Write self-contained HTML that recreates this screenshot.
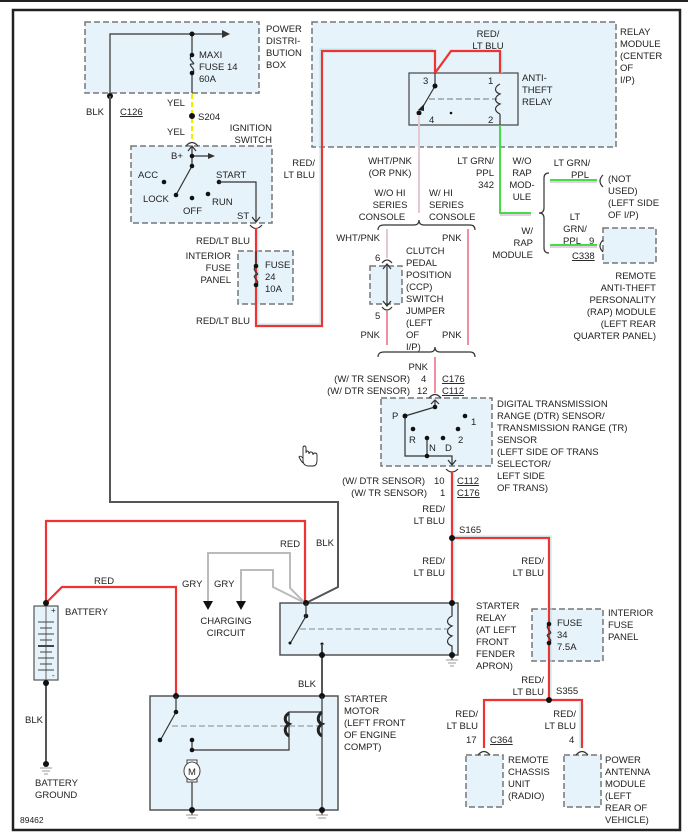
<!DOCTYPE html>
<html><head><meta charset="utf-8"><style>
body{margin:0;background:#fff}
svg{display:block}
text{font-family:"Liberation Sans",sans-serif;font-size:9.5px;fill:#222}
.bx{fill:#e6f3fb;stroke:#777;stroke-width:1.5;stroke-dasharray:6,3}
.w{fill:none;stroke:#333;stroke-width:1.2}
.blk{fill:none;stroke:#555;stroke-width:2}
.red{fill:none;stroke:#e33;stroke-width:2.2}
.cy{fill:none;stroke:#aee;stroke-width:1}
.gry{fill:none;stroke:#bbb;stroke-width:2}
.pnk{fill:none;stroke:#f08fa0;stroke-width:2}
.wp{fill:none;stroke:#e6c9cf;stroke-width:2}
.grn{fill:none;stroke:#4d4;stroke-width:2}
.r{text-anchor:end}.m{text-anchor:middle}
</style></head><body>
<svg width="688" height="837" viewBox="0 0 688 837">
<line x1="0" y1="1" x2="688" y2="1" stroke="#222" stroke-width="2"/>
<rect x="13" y="10" width="667" height="820" fill="none" stroke="#222" stroke-width="2.5"/>

<!-- boxes -->
<rect class="bx" x="85" y="22" width="174" height="71"/>
<rect class="bx" x="312" y="22" width="304" height="125"/>
<rect class="bx" x="131" y="146" width="141" height="77"/>
<rect class="bx" x="238" y="251" width="55" height="53"/>
<rect class="bx" x="370" y="266" width="32" height="38"/>
<rect class="bx" x="603" y="228" width="53" height="35"/>
<rect class="bx" x="381" y="398" width="111" height="68"/>
<rect class="bx" x="532" y="609" width="71" height="52"/>
<rect class="bx" x="466" y="755" width="37" height="52"/>
<rect class="bx" x="564" y="755" width="37" height="52"/>
<rect x="409" y="73" width="109" height="52" fill="#e6f3fb" stroke="#444" stroke-width="1.2"/>
<rect x="280" y="603" width="178" height="52" fill="#e6f3fb" stroke="#555" stroke-width="1.5"/>
<rect x="150" y="696" width="188" height="114" fill="#e6f3fb" stroke="#555" stroke-width="1.5"/>
<rect x="34" y="606" width="24" height="74" fill="#e6f3fb" stroke="#555" stroke-width="1.2"/>

<!-- PDB -->
<polyline class="w" points="110,96 110,34 224,34"/><path d="M222,30 L230,34 L222,38" fill="#333"/>
<line class="w" x1="192" y1="34" x2="192" y2="55"/><line class="w" x1="192" y1="73" x2="192" y2="93"/>
<path class="w" d="M192,55 C186,60 198,64 192,64 C186,64 198,70 192,73"/>
<circle cx="192" cy="34" r="2.5" fill="#111"/><circle cx="192" cy="55" r="2.3" fill="#111"/><circle cx="192" cy="73" r="2.3" fill="#111"/>
<circle cx="110" cy="96" r="3" fill="#111"/>
<text x="199" y="58">MAXI</text><text x="199" y="70">FUSE 14</text><text x="199" y="82">60A</text>
<text x="266" y="32">POWER</text><text x="266" y="44">DISTRI-</text><text x="266" y="56">BUTION</text><text x="266" y="68">BOX</text>
<text x="86" y="115">BLK</text><text x="120" y="115" text-decoration="underline">C126</text>
<line x1="192" y1="94" x2="192" y2="140" stroke="#ee0" stroke-width="2" stroke-dasharray="5,3"/>
<circle cx="192" cy="116" r="3" fill="#111"/><text x="198" y="120">S204</text>
<text x="167" y="106">YEL</text><text x="167" y="135">YEL</text>
<text class="r" x="272" y="131">IGNITION</text><text class="r" x="272" y="143">SWITCH</text>

<!-- ignition -->
<path class="w" d="M186,146 Q192,139 198,146"/>
<polyline class="w" points="192,146 192,166 176,195"/><line class="w" x1="192" y1="156" x2="210" y2="156"/><path d="M208,153 L215,156 L208,159" fill="#333"/>
<path class="w" d="M188,151 L192,146 L196,151"/>
<circle cx="192" cy="156" r="2.3" fill="#111"/><circle cx="192" cy="166" r="2.3" fill="#111"/><circle cx="176" cy="195" r="2.3" fill="#111"/>
<circle cx="164" cy="182" r="2.3" fill="#111"/><circle cx="192" cy="198" r="2.3" fill="#111"/><circle cx="208" cy="194" r="2.3" fill="#111"/><circle cx="219" cy="182" r="2.3" fill="#111"/>
<polyline class="w" points="219,182 256,182 256,222"/><path class="w" d="M252,217 L256,222 L260,217"/>
<text x="171" y="159">B+</text><text x="138" y="178">ACC</text><text x="143" y="202">LOCK</text><text x="183" y="214">OFF</text><text x="212" y="205">RUN</text><text x="216" y="178">START</text><text x="237" y="219">ST</text>
<path class="w" d="M250,225 Q256,232 262,225"/>

<!-- red/lt blu to relay -->
<polyline class="cy" points="258,228 258,324 320,324 320,49 433,49"/>
<polyline class="red" points="256,228 256,326 322,326 322,51 435,51 435,73"/>
<polyline class="red" points="435,73 451,51 500,51 500,73"/>
<line class="cy" x1="502" y1="51" x2="502" y2="73"/>
<line class="w" x1="256" y1="251" x2="256" y2="266"/>
<path class="w" d="M256,266 C250,271 262,274 256,275 C250,277 262,281 256,285"/>
<circle cx="256" cy="266" r="2.3" fill="#111"/><circle cx="256" cy="285" r="2.3" fill="#111"/>
<text class="r" x="250" y="244">RED/LT BLU</text><text class="r" x="250" y="324">RED/LT BLU</text>
<text class="r" x="231" y="259">INTERIOR</text><text class="r" x="231" y="271">FUSE</text><text class="r" x="231" y="283">PANEL</text>
<text x="265" y="268">FUSE</text><text x="265" y="280">24</text><text x="265" y="292">10A</text>
<text class="r" x="315" y="166">RED/</text><text class="r" x="315" y="178">LT BLU</text>

<!-- relay module -->
<text class="m" x="488" y="37">RED/</text><text class="m" x="488" y="49">LT BLU</text>
<text x="620" y="35">RELAY</text><text x="620" y="47">MODULE</text><text x="620" y="59">(CENTER</text><text x="620" y="71">OF</text><text x="620" y="83">I/P)</text>
<line class="w" x1="435" y1="73" x2="435" y2="86"/><line class="w" x1="435" y1="86" x2="421" y2="110"/><path d="M418,110 L424,104 L424,111Z" fill="#222"/>
<circle cx="435" cy="86" r="2.5" fill="#111"/><circle cx="419" cy="113" r="2.5" fill="#111"/><circle cx="451" cy="113" r="1.3" fill="#111"/>
<line x1="429" y1="99" x2="497" y2="99" stroke="#777" stroke-dasharray="6,3"/>
<path class="w" d="M500,84 C494,87 494,92 500,94 C494,97 494,102 500,104 C494,107 494,111 500,114"/>
<line class="w" x1="500" y1="114" x2="500" y2="125"/>
<text x="423" y="84">3</text><text x="488" y="84">1</text><text x="429" y="123">4</text><text x="488" y="123">2</text>
<text x="522" y="81">ANTI-</text><text x="522" y="93">THEFT</text><text x="522" y="105">RELAY</text>
<line class="wp" x1="419" y1="115" x2="419" y2="213"/>
<polyline class="grn" points="500,125 500,213 531,213"/><line x1="500" y1="215" x2="531" y2="215" stroke="#c9c" stroke-width="1"/>
<text class="m" x="390" y="164">WHT/PNK</text><text class="m" x="390" y="176">(OR PNK)</text>
<text class="r" x="494" y="164">LT GRN/</text><text class="r" x="494" y="176">PPL</text><text class="r" x="494" y="188">342</text>
<text class="m" x="522" y="164">W/O</text><text class="m" x="522" y="176">RAP</text><text class="m" x="522" y="188">MOD-</text><text class="m" x="522" y="200">ULE</text>
<text class="m" x="390" y="196">W/O HI</text><text class="m" x="390" y="208">SERIES</text><text class="m" x="382" y="220">CONSOLE</text>
<text x="429" y="196">W/ HI</text><text x="429" y="208">SERIES</text><text x="429" y="220">CONSOLE</text>
<path class="w" d="M378,230 Q378,225 384,225 L414,225 Q419,225 419,220 Q419,225 424,225 L470,225 Q475,225 475,230"/>
<text class="r" x="380" y="241">WHT/PNK</text><text x="442" y="241">PNK</text>
<line class="wp" x1="387" y1="229" x2="387" y2="258"/>
<line class="pnk" x1="468" y1="229" x2="468" y2="345"/><line class="pnk" x1="387" y1="311" x2="387" y2="345"/>
<path class="w" d="M382,263 Q387,257 392,263"/><path class="w" d="M382,307 Q387,313 392,307"/>
<line class="w" x1="387" y1="264" x2="387" y2="306"/><path class="w" d="M383,269 L387,264 L391,269 M383,301 L387,306 L391,301"/>
<text x="375" y="261">6</text><text x="375" y="319">5</text>
<text x="406" y="254">CLUTCH</text><text x="406" y="266">PEDAL</text><text x="406" y="278">POSITION</text><text x="406" y="290">(CCP)</text><text x="406" y="302">SWITCH</text><text x="406" y="314">JUMPER</text><text x="406" y="326">(LEFT</text><text x="406" y="338">OF</text><text x="406" y="350">I/P)</text>
<text class="r" x="380" y="338">PNK</text><text x="442" y="338">PNK</text>

<!-- RAP -->
<path class="w" d="M549,173 Q544,173 544,178 L544,208 Q544,213 539,213 Q544,213 544,218 L544,248 Q544,253 549,253"/>
<line class="grn" x1="550" y1="180" x2="597" y2="180"/><line x1="550" y1="182" x2="597" y2="182" stroke="#c9c"/>
<line class="grn" x1="550" y1="245" x2="597" y2="245"/><line x1="550" y1="247" x2="597" y2="247" stroke="#c9c"/>
<path class="w" d="M603,175 Q597,181 603,187"/><path class="w" d="M603,240 Q597,246 603,252"/>
<text class="m" x="572" y="166">LT GRN/</text><text class="m" x="580" y="178">PPL</text>
<text x="608" y="182">(NOT</text><text x="608" y="194">USED)</text><text x="608" y="206">(LEFT SIDE</text><text x="608" y="218">OF I/P)</text>
<text class="r" x="533" y="234">W/</text><text class="r" x="533" y="246">RAP</text><text class="r" x="533" y="258">MODULE</text>
<text class="m" x="575" y="220">LT</text><text class="m" x="575" y="232">GRN/</text><text class="m" x="572" y="244">PPL</text><text x="589" y="244">9</text>
<text x="572" y="259" text-decoration="underline">C338</text>
<text class="r" x="656" y="279">REMOTE</text><text class="r" x="656" y="291">ANTI-THEFT</text><text class="r" x="656" y="303">PERSONALITY</text><text class="r" x="656" y="315">(RAP) MODULE</text><text class="r" x="656" y="327">(LEFT REAR</text><text class="r" x="656" y="339">QUARTER PANEL)</text>

<!-- DTR -->
<path class="w" d="M378,357 Q378,352 384,352 L430,352 Q435,352 435,347 Q435,352 440,352 L470,352 Q475,352 475,357"/>
<line class="pnk" x1="435" y1="357" x2="435" y2="393"/>
<text class="r" x="428" y="370">PNK</text>
<text class="r" x="410" y="382">(W/ TR SENSOR)</text><text x="421" y="382">4</text><text x="442" y="382" text-decoration="underline">C176</text>
<text class="r" x="410" y="394">(W/ DTR SENSOR)</text><text x="417" y="394">12</text><text x="442" y="394" text-decoration="underline">C112</text>
<path class="w" d="M429,398 Q435,391 441,398"/>
<polyline class="w" points="435,400 435,407 405,416 405,456 452,456 452,464"/>
<path class="w" d="M431,404 L435,400 L439,404 M448,460 L452,465 L456,460"/>
<line class="w" x1="427" y1="438" x2="427" y2="456"/>
<circle cx="435" cy="407" r="2.3" fill="#111"/><circle cx="405" cy="416" r="2.5" fill="#111"/><circle cx="465" cy="416" r="2.3" fill="#111"/><circle cx="413" cy="429" r="2.3" fill="#111"/><circle cx="427" cy="438" r="2.3" fill="#111"/><circle cx="443" cy="438" r="2.3" fill="#111"/><circle cx="458" cy="429" r="2.3" fill="#111"/><circle cx="427" cy="456" r="2.3" fill="#111"/>
<text x="392" y="419">P</text><text x="471" y="425">1</text><text x="409" y="443">R</text><text x="429" y="451">N</text><text x="445" y="451">D</text><text x="458" y="443">2</text>
<text x="497" y="407">DIGITAL TRANSMISSION</text><text x="497" y="419">RANGE (DTR) SENSOR/</text><text x="497" y="431">TRANSMISSION RANGE (TR)</text><text x="497" y="443">SENSOR</text><text x="497" y="455">(LEFT SIDE OF TRANS</text><text x="497" y="467">SELECTOR/</text><text x="497" y="479">LEFT SIDE</text><text x="497" y="491">OF TRANS)</text>
<path class="w" d="M446,469 Q452,475 458,469"/>
<text class="r" x="425" y="484">(W/ DTR SENSOR)</text><text x="434" y="484">10</text><text x="457" y="484" text-decoration="underline">C112</text>
<text class="r" x="427" y="496">(W/ TR SENSOR)</text><text x="440" y="496">1</text><text x="457" y="496" text-decoration="underline">C176</text>

<!-- hand cursor -->
<path d="M303,448 L303,460 Q303,466 309,466 L313,466 Q317,466 317,460 L317,455 Q317,453 315,453 Q313,453 313,455 Q313,452 311,452 Q309,452 309,454 Q309,451 307,451 Q306,451 306,453 L306,448 Q306,446 304.5,446 Q303,446 303,448Z M303,458 Q300,455 299,457 Q301,461 303,463" fill="#fff" stroke="#222" stroke-width="0.9"/>

<!-- lower wiring -->
<polyline class="blk" points="110,96 110,502 338,502 338,587 306,603"/>
<line class="cy" x1="454" y1="472" x2="454" y2="603"/>
<line class="red" x1="452" y1="472" x2="452" y2="603"/>
<polyline class="cy" points="452,536 551,536 551,700"/>
<polyline class="red" points="452,538 549,538 549,700"/>
<circle cx="452" cy="538" r="3" fill="#111"/><text x="459" y="533">S165</text>
<text class="r" x="445" y="512">RED/</text><text class="r" x="445" y="524">LT BLU</text>
<text class="r" x="445" y="564">RED/</text><text class="r" x="445" y="576">LT BLU</text>
<text class="r" x="544" y="564">RED/</text><text class="r" x="544" y="576">LT BLU</text>
<polyline class="red" points="305,603 305,521 46,521 46,603"/>
<polyline class="red" points="46,603 62,587 176,587 176,696"/>
<polyline class="gry" points="208,604 208,553 290,553 290,588 305,603"/>
<polyline class="gry" points="241,604 241,570 273,570 273,587 305,603"/>
<path d="M203,601 L213,601 L208,610Z" fill="#111"/><path d="M236,601 L246,601 L241,610Z" fill="#111"/>
<text x="182" y="587">GRY</text><text x="214" y="587">GRY</text>
<text class="m" x="226" y="624">CHARGING</text><text class="m" x="226" y="636">CIRCUIT</text>
<text x="280" y="547">RED</text><text x="316" y="546">BLK</text><text x="94" y="584">RED</text>

<!-- starter relay -->
<circle cx="306" cy="603" r="3" fill="#111"/><circle cx="306" cy="616" r="2.3" fill="#111"/>
<line class="w" x1="306" y1="603" x2="306" y2="616"/><line class="w" x1="306" y1="616" x2="291" y2="642"/>
<circle cx="290" cy="643" r="1.5" fill="#111"/><circle cx="322" cy="644" r="1.5" fill="#111"/>
<line x1="300" y1="629" x2="448" y2="629" stroke="#888" stroke-dasharray="6,3"/>
<path class="w" d="M452,603 L452,616 C446,619 446,624 452,626 C446,629 446,634 452,636 C446,639 446,644 452,646 L452,660"/>
<circle cx="452" cy="603" r="3" fill="#111"/><circle cx="452" cy="655" r="3" fill="#111"/>
<path d="M446,660 L458,660 M448,663 L456,663 M450,666 L454,666" stroke="#999"/>
<line class="blk" x1="322" y1="644" x2="322" y2="696"/><circle cx="322" cy="655" r="3" fill="#111"/>
<text x="298" y="687">BLK</text>
<text x="476" y="609">STARTER</text><text x="476" y="621">RELAY</text><text x="476" y="633">(AT LEFT</text><text x="476" y="645">FRONT</text><text x="476" y="657">FENDER</text><text x="476" y="669">APRON)</text>

<!-- fuse 34 and branches -->
<path class="w" d="M549,624 C543,629 555,632 549,634 C543,636 555,639 549,643" stroke-width="1.5"/>
<circle cx="549" cy="624" r="2.3" fill="#111"/><circle cx="549" cy="643" r="2.3" fill="#111"/>
<text x="557" y="626">FUSE</text><text x="557" y="638">34</text><text x="557" y="650">7.5A</text>
<text x="608" y="616">INTERIOR</text><text x="608" y="628">FUSE</text><text x="608" y="640">PANEL</text>
<text class="r" x="544" y="683">RED/</text><text class="r" x="544" y="695">LT BLU</text><text x="556" y="694">S355</text>
<polyline class="red" points="549,700 484,700 484,748"/><polyline class="red" points="549,700 582,700 582,748"/>
<line class="cy" x1="580" y1="702" x2="580" y2="748"/>
<circle cx="549" cy="700" r="3" fill="#111"/>
<path class="w" d="M478,755 Q484,748 490,755"/><path class="w" d="M576,755 Q582,748 588,755"/>
<text class="r" x="478" y="717">RED/</text><text class="r" x="478" y="729">LT BLU</text><text x="466" y="743">17</text><text x="490" y="743" text-decoration="underline">C364</text>
<text class="r" x="576" y="717">RED/</text><text class="r" x="576" y="729">LT BLU</text><text x="569" y="743">4</text>
<text x="508" y="763">REMOTE</text><text x="508" y="775">CHASSIS</text><text x="508" y="787">UNIT</text><text x="508" y="799">(RADIO)</text>
<text x="605" y="763">POWER</text><text x="605" y="775">ANTENNA</text><text x="605" y="787">MODULE</text><text x="605" y="799">(LEFT</text><text x="605" y="811">REAR OF</text><text x="605" y="823">VEHICLE)</text>

<!-- battery -->
<circle cx="46" cy="603" r="3" fill="#111"/>
<line x1="46" y1="606" x2="46" y2="680" stroke="#666"/>
<g stroke="#444"><line x1="38" y1="622" x2="54" y2="622"/><line x1="40" y1="628" x2="52" y2="628"/><line x1="38" y1="634" x2="54" y2="634"/><line x1="40" y1="640" x2="52" y2="640"/><line x1="38" y1="646" x2="54" y2="646" stroke-width="2"/><line x1="40" y1="652" x2="52" y2="652"/><line x1="38" y1="658" x2="54" y2="658"/><line x1="40" y1="664" x2="52" y2="664"/><line x1="38" y1="670" x2="54" y2="670"/></g>
<text x="51" y="613" style="font-size:8px">+</text><text x="52" y="678" style="font-size:8px">-</text>
<text x="65" y="615">BATTERY</text>
<line class="blk" x1="46" y1="683" x2="46" y2="765"/><circle cx="46" cy="683" r="3" fill="#111"/><circle cx="46" cy="764" r="3" fill="#111"/>
<path d="M40,768 L52,768 M42,771 L50,771 M44,774 L48,774" stroke="#999"/>
<text x="25" y="723">BLK</text><text x="35" y="786">BATTERY</text><text x="35" y="798">GROUND</text>

<!-- starter motor -->
<circle cx="176" cy="696" r="3" fill="#111"/><circle cx="322" cy="696" r="3" fill="#111"/>
<line class="w" x1="176" y1="696" x2="176" y2="712"/><line class="w" x1="176" y1="712" x2="161" y2="739"/>
<circle cx="176" cy="712" r="2.3" fill="#111"/><circle cx="160" cy="740" r="2.3" fill="#111"/>
<line x1="172" y1="726" x2="318" y2="726" stroke="#888" stroke-dasharray="6,3"/>
<polyline class="w" points="192,740 192,750 289,750 289,712 322,712"/>
<circle cx="192" cy="740" r="2.3" fill="#111"/><circle cx="192" cy="750" r="2.3" fill="#111"/>
<path d="M289,713 C284,716 284,722 289,724 C284,727 284,733 289,736" stroke="#222" stroke-width="3" fill="none"/>
<path d="M322,712 C317,716 317,722 322,724 C317,727 317,733 322,736" stroke="#222" stroke-width="3" fill="none"/>
<line class="w" x1="322" y1="696" x2="322" y2="815"/>
<rect x="187" y="760" width="10" height="22" fill="#fff" stroke="#444"/>
<ellipse cx="192" cy="771" rx="8" ry="9" fill="#fff" stroke="#444"/>
<text class="m" x="192" y="775">M</text>
<line class="w" x1="192" y1="782" x2="192" y2="815"/>
<circle cx="192" cy="810" r="3" fill="#111"/><circle cx="322" cy="810" r="3" fill="#111"/>
<path d="M186,815 L198,815 M188,818 L196,818 M316,815 L328,815 M318,818 L326,818" stroke="#999"/>
<text x="344" y="702">STARTER</text><text x="344" y="714">MOTOR</text><text x="344" y="726">(LEFT FRONT</text><text x="344" y="738">OF ENGINE</text><text x="344" y="750">COMPT)</text>
<text x="20" y="823" style="font-size:8.5px">89462</text>
</svg>
</body></html>
